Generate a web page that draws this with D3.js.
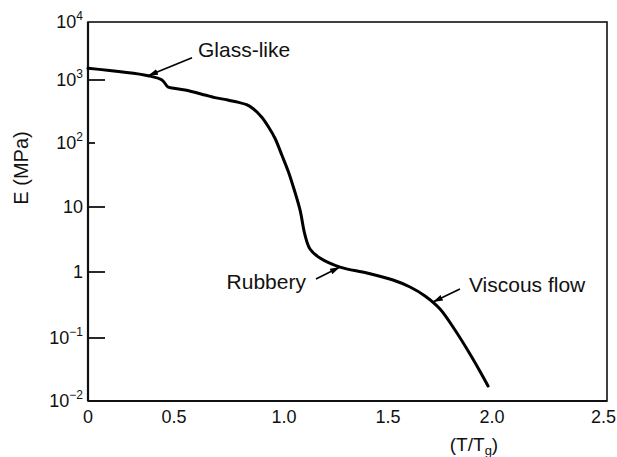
<!DOCTYPE html>
<html>
<head>
<meta charset="utf-8">
<script src="https://cdn.jsdelivr.net/npm/d3@7/dist/d3.min.js"></script>
<style>
  html, body { margin: 0; padding: 0; background: #fff; }
  svg { display: block; }
  text { font-family: "Liberation Sans", Arial, Helvetica, sans-serif; fill: #111; }
</style>
</head>
<body>
<svg id="chart" width="617" height="457"></svg>
<script>
// ---- data ----
const xTicks = [0, 0.5, 1.0, 1.5, 2.0, 2.5];
const xTickLabels = ["0", "0.5", "1.0", "1.5", "2.0", "2.5"];
const yTicks = [1e-2, 1e-1, 1, 10, 100, 1000, 1e4];
const yTickBase = ["10", "10", "1", "10", "10", "10", "10"];
const yTickExp = ["\u22122", "\u22121", "", "", "2", "3", "4"];

// modulus curve E (MPa) versus T/Tg
const tRatio = [0, 0.349, 0.430, 0.465, 0.488, 0.55, 0.641, 0.686, 0.740, 0.790, 0.830, 0.860, 0.899, 0.929, 0.959, 0.990, 1.021, 1.048, 1.077, 1.101, 1.125, 1.173, 1.269, 1.399, 1.524, 1.606, 1.678, 1.750, 1.822, 1.894, 1.952, 1.981];
const modulus = [1590, 1186, 1000, 774, 747, 693, 578, 525, 485, 445, 405, 350, 256, 181, 119, 64.9, 35.6, 19.1, 9.0, 3.71, 2.26, 1.64, 1.19, 0.966, 0.757, 0.593, 0.433, 0.275, 0.132, 0.0557, 0.0259, 0.0173];

// annotations: label, point on curve (T/Tg, E)
const annLabels = ["Glass-like", "Rubbery", "Viscous flow"];
const annT = [0.349, 1.269, 1.716];
const annE = [1186, 1.19, 0.351];

(function () {
// ---- layout ----
const svg = d3.select("#chart");
const pL = 88, pR = 607, pT = 22, pB = 401;

// the printed axes are not perfectly uniform; piecewise scales follow the printed tick positions
const x = d3.scaleLinear().domain(xTicks).range([88, 174, 284, 388, 492, 607]);
const y = d3.scaleLog().domain(yTicks).range([401, 338, 272, 207, 143, 80, 22]);

// frame
svg.append("rect")
  .attr("x", pL).attr("y", pT)
  .attr("width", pR - pL).attr("height", pB - pT)
  .attr("fill", "none").attr("stroke", "#111").attr("stroke-width", 1.6);
svg.append("line").attr("x1", pL).attr("x2", pL).attr("y1", pT).attr("y2", pB)
  .attr("stroke", "#111").attr("stroke-width", 2.2);
svg.append("line").attr("x1", pL).attr("x2", pR).attr("y1", pB).attr("y2", pB)
  .attr("stroke", "#111").attr("stroke-width", 2.2);

// y ticks (inward)
const tickLen = d => (d === 100 ? 7 : 17);
svg.append("g").selectAll("line")
  .data(yTicks.filter(d => d > 1e-2 && d < 1e4))
  .join("line")
  .attr("x1", pL).attr("x2", d => pL + tickLen(d))
  .attr("y1", d => y(d)).attr("y2", d => y(d))
  .attr("stroke", "#111").attr("stroke-width", 1.8);

// y tick labels
const yl = svg.append("g").selectAll("text")
  .data(yTicks.map((v, i) => ({ v, b: yTickBase[i], e: yTickExp[i] })))
  .join("text")
  .attr("x", 83)
  .attr("y", d => y(d.v) + 6)
  .attr("text-anchor", "end")
  .attr("font-size", 18);
yl.append("tspan").text(d => d.b);
yl.filter(d => d.e !== "").append("tspan")
  .attr("font-size", 12)
  .attr("dy", -8)
  .text(d => d.e);

// x tick labels (last one kept inside the page edge)
svg.append("g").selectAll("text")
  .data(xTicks.map((v, i) => ({ v, l: xTickLabels[i], last: i === xTicks.length - 1 })))
  .join("text")
  .attr("x", d => d.last ? 616 : x(d.v))
  .attr("y", 423)
  .attr("text-anchor", d => d.last ? "end" : "middle")
  .attr("font-size", 18)
  .text(d => d.l);

// axis titles
svg.append("text")
  .attr("transform", "translate(28,168) rotate(-90)")
  .attr("text-anchor", "middle")
  .attr("font-size", 20)
  .text("E (MPa)");

const xt = svg.append("text")
  .attr("x", 474).attr("y", 451)
  .attr("text-anchor", "middle")
  .attr("font-size", 19);
xt.append("tspan").text("(T/T");
xt.append("tspan").attr("font-size", 13).attr("dy", 4).text("g");
xt.append("tspan").attr("dy", -4).text(")");

// curve
const line = d3.line()
  .x(d => x(d[0]))
  .y(d => y(d[1]))
  .curve(d3.curveCatmullRom.alpha(0.5));
svg.append("path")
  .datum(tRatio.map((t, i) => [t, modulus[i]]))
  .attr("d", line)
  .attr("fill", "none")
  .attr("stroke", "#000")
  .attr("stroke-width", 3)
  .attr("stroke-linejoin", "round")
  .attr("stroke-linecap", "round");

// annotations: text position relative to the pointed curve point
const annOffset = [
  { tx: 50, ty: -19, ax: 44, ay: -18, anchor: "start" },   // Glass-like
  { tx: -34, ty: 22, ax: -24, ay: 12, anchor: "end" },     // Rubbery
  { tx: 36, ty: -10, ax: 27, ay: -13, anchor: "start" }    // Viscous flow
];
const defs = svg.append("defs");
defs.append("marker")
  .attr("id", "ah")
  .attr("viewBox", "0 0 10 6")
  .attr("refX", 10).attr("refY", 3)
  .attr("markerWidth", 10).attr("markerHeight", 6)
  .attr("markerUnits", "userSpaceOnUse")
  .attr("orient", "auto")
  .append("path").attr("d", "M0,0 L10,3 L0,6 Z").attr("fill", "#000");

annLabels.forEach((lab, i) => {
  const px = x(annT[i]), py = y(annE[i]);
  const o = annOffset[i];
  svg.append("line")
    .attr("x1", px + o.ax).attr("y1", py + o.ay)
    .attr("x2", px).attr("y2", py)
    .attr("stroke", "#000").attr("stroke-width", 1.6)
    .attr("marker-end", "url(#ah)");
  svg.append("text")
    .attr("x", px + o.tx).attr("y", py + o.ty)
    .attr("text-anchor", o.anchor)
    .attr("font-size", 21)
    .text(lab);
});
})();
</script>
</body>
</html>
